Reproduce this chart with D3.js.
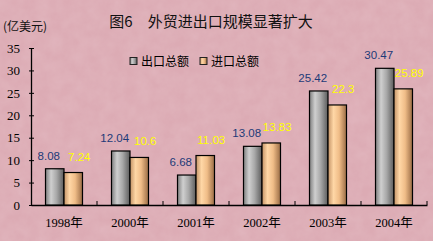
<!DOCTYPE html>
<html>
<head>
<meta charset="utf-8">
<script src="https://cdn.jsdelivr.net/npm/d3@7"></script>
<style>
  body { margin: 0; background: #dcabb4; }
  svg { display: block; }
</style>
</head>
<body>
<div id="chart"></div>
<script>
const years = ['1998年', '2000年', '2001年', '2002年', '2003年', '2004年']
const exportValues = [8.08, 12.04, 6.68, 13.08, 25.42, 30.47]
const importValues = [7.24, 10.6, 11.03, 13.83, 22.3, 25.89]
const exportLabels = ['8.08', '12.04', '6.68', '13.08', '25.42', '30.47']
const importLabels = ['7.24', '10.6', '11.03', '13.83', '22.3', '25.89']
const yTicks = [0, 5, 10, 15, 20, 25, 30, 35]
const seriesNames = ['出口总额', '进口总额']

const width = 433
const height = 241
const margin = { top: 48, right: 6, bottom: 36, left: 31 }

const serif = "'Liberation Serif', 'Times New Roman', 'Noto Sans CJK SC', serif"
const cjk = "'Noto Sans CJK SC', sans-serif"

const svg = d3
  .select('#chart')
  .append('svg')
  .attr('width', width)
  .attr('height', height)

const defs = svg.append('defs')

// mottled pink paper background
const noise = defs.append('filter').attr('id', 'paper')
  .attr('x', 0).attr('y', 0).attr('width', '100%').attr('height', '100%')
noise.append('feTurbulence')
  .attr('type', 'fractalNoise')
  .attr('baseFrequency', 0.08)
  .attr('numOctaves', 3)
  .attr('seed', 4)
noise.append('feColorMatrix')
  .attr('type', 'matrix')
  .attr('values', '0 0 0 0 1  0 0 0 0 0.9  0 0 0 0 0.92  0.5 0 0 0 -0.1')

svg.append('rect')
  .attr('width', width).attr('height', height)
  .attr('fill', '#dcabb4')
svg.append('rect')
  .attr('width', width).attr('height', height)
  .attr('filter', 'url(#paper)')
  .attr('opacity', 0.35)

function addGradient (id, stops) {
  const g = defs.append('linearGradient').attr('id', id)
    .attr('x1', '0%').attr('x2', '100%').attr('y1', '0%').attr('y2', '0%')
  stops.forEach(s => g.append('stop').attr('offset', s[0]).attr('stop-color', s[1]))
}
addGradient('gray', [['0%', '#7e7e7e'], ['30%', '#cfcfcf'], ['60%', '#a8a8a8'], ['100%', '#5c5c5c']])
addGradient('orange', [['0%', '#c49366'], ['30%', '#ffd7a6'], ['60%', '#f0bd88'], ['100%', '#9a6c45']])

const x = d3.scaleBand()
  .domain(years)
  .range([margin.left, width - margin.right])
  .padding(0)

const y = d3.scaleLinear()
  .domain([0, 35])
  .range([height - margin.bottom, margin.top])

const barW = 18.5

// title
svg.append('text')
  .attr('x', 211)
  .attr('y', 27)
  .attr('text-anchor', 'middle')
  .attr('font-family', cjk)
  .attr('font-size', 15)
  .attr('fill', '#111')
  .text('图6　外贸进出口规模显著扩大')

svg.append('text')
  .attr('x', 3)
  .attr('y', 31)
  .attr('font-family', cjk)
  .attr('font-size', 12)
  .attr('fill', '#111')
  .text('(亿美元)')

// y axis
const yAxis = svg.append('g')
  .attr('transform', 'translate(' + margin.left + ',0)')
  .call(d3.axisLeft(y).tickValues(yTicks).tickSize(3).tickSizeOuter(0))
yAxis.select('.domain').attr('stroke', '#000').attr('stroke-width', 1.3)
yAxis.selectAll('.tick line').attr('stroke', '#000').attr('x2', 3).attr('x1', -2)
yAxis.selectAll('.tick text')
  .attr('x', -11)
  .attr('font-family', serif)
  .attr('font-size', 13)
  .attr('fill', '#000')

// x axis
const xAxis = svg.append('g')
  .attr('transform', 'translate(0,' + y(0) + ')')
  .call(d3.axisBottom(x).tickSize(0).tickSizeOuter(0))
xAxis.select('.domain').attr('stroke', '#000').attr('stroke-width', 1.3)
xAxis.selectAll('.tick text')
  .attr('y', 13)
  .attr('font-family', serif)
  .attr('font-size', 12.5)
  .attr('fill', '#000')

// x tick marks between categories, pointing up
const boundaries = years.map(d => x(d) + x.bandwidth())
svg.selectAll('.xtick')
  .data(boundaries)
  .enter()
  .append('line')
  .attr('class', 'xtick')
  .attr('x1', d => d).attr('x2', d => d)
  .attr('y1', y(0)).attr('y2', y(0) - 4)
  .attr('stroke', '#000')

const rows = years.map((d, i) => ({
  year: d,
  exp: exportValues[i],
  imp: importValues[i],
  expLabel: exportLabels[i],
  impLabel: importLabels[i]
}))

const center = d => x(d.year) + x.bandwidth() / 2

svg.selectAll('.bar-exp')
  .data(rows)
  .enter()
  .append('rect')
  .attr('class', 'bar-exp')
  .attr('x', d => center(d) - barW)
  .attr('y', d => y(d.exp))
  .attr('width', barW)
  .attr('height', d => y(0) - y(d.exp))
  .attr('fill', 'url(#gray)')
  .attr('stroke', '#000')
  .attr('stroke-width', 1.2)

svg.selectAll('.bar-imp')
  .data(rows)
  .enter()
  .append('rect')
  .attr('class', 'bar-imp')
  .attr('x', d => center(d))
  .attr('y', d => y(d.imp))
  .attr('width', barW)
  .attr('height', d => y(0) - y(d.imp))
  .attr('fill', 'url(#orange)')
  .attr('stroke', '#000')
  .attr('stroke-width', 1.2)

svg.selectAll('.lab-exp')
  .data(rows)
  .enter()
  .append('text')
  .attr('class', 'lab-exp')
  .attr('x', d => center(d) - barW / 2 - 6)
  .attr('y', d => y(d.exp) - 9)
  .attr('text-anchor', 'middle')
  .attr('font-family', "'Liberation Sans', Arial, sans-serif")
  .attr('font-size', 11.5)
  .attr('fill', '#1c3a78')
  .text(d => d.expLabel)

svg.selectAll('.lab-imp')
  .data(rows)
  .enter()
  .append('text')
  .attr('class', 'lab-imp')
  .attr('x', d => center(d) + barW / 2 + 6)
  .attr('y', d => y(d.imp) - 12)
  .attr('text-anchor', 'middle')
  .attr('font-family', "'Liberation Sans', Arial, sans-serif")
  .attr('font-size', 11.5)
  .attr('fill', '#ffff00')
  .text(d => d.impLabel)

// legend
const legendX = [130, 200]
const legendFill = ['url(#gray)', 'url(#orange)']
const legend = svg.selectAll('.legend')
  .data(seriesNames)
  .enter()
  .append('g')
  .attr('class', 'legend')
  .attr('transform', (d, i) => 'translate(' + legendX[i] + ',61)')
legend.append('rect')
  .attr('x', 0).attr('y', -3.5)
  .attr('width', 7).attr('height', 7)
  .attr('fill', (d, i) => legendFill[i])
  .attr('stroke', '#222')
  .attr('stroke-width', 1)
legend.append('text')
  .attr('x', 11)
  .attr('y', 4.5)
  .attr('font-family', cjk)
  .attr('font-size', 12)
  .attr('fill', '#000')
  .text(d => d)
</script>
</body>
</html>
